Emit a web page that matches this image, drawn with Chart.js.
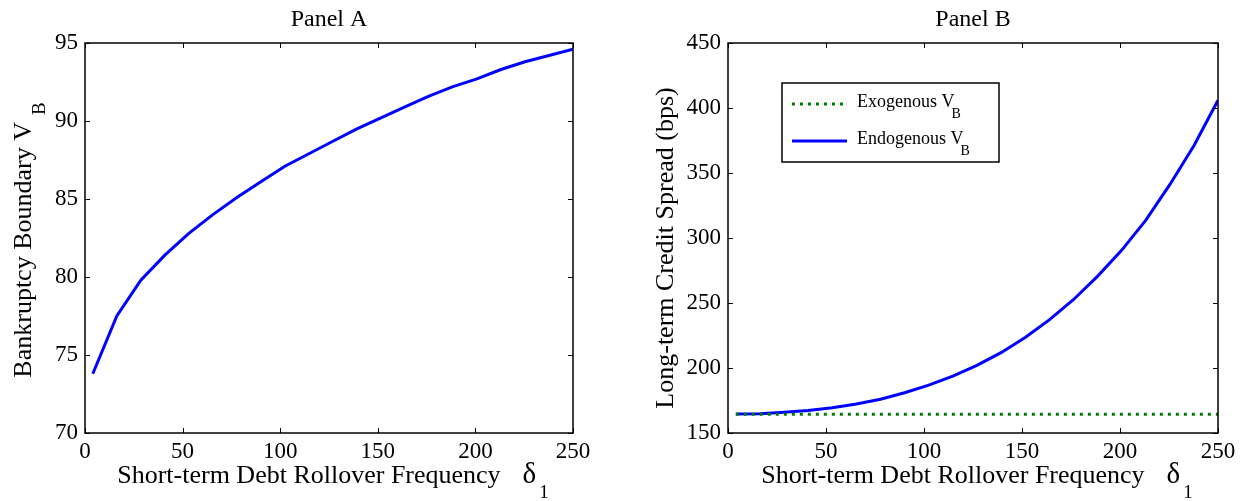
<!DOCTYPE html>
<html>
<head>
<meta charset="utf-8">
<script src="https://cdn.jsdelivr.net/npm/chart.js@4.4.1/dist/chart.umd.min.js"></script>
<style>
  html, body { margin: 0; padding: 0; background: #ffffff; }
  #wrap { position: relative; width: 1245px; height: 501px; overflow: hidden; background: #fff; }
  canvas { position: absolute; top: 0; }
</style>
</head>
<body>
<div id="wrap">
  <canvas id="cA" width="622" height="501" style="left:0px"></canvas>
  <canvas id="cB" width="623" height="501" style="left:622px"></canvas>
</div>
<script>
// ---- data ----
const rolloverFreq = [4, 16.3, 28.6, 40.9, 53.2, 65.5, 77.8, 90.1, 102.4, 114.7, 127, 139.3, 151.6, 163.9, 176.2, 188.5, 200.8, 213.1, 225.4, 237.7, 250];
const bankruptcyBoundary = [73.8, 77.5, 79.8, 81.4, 82.8, 84.0, 85.1, 86.1, 87.1, 87.9, 88.7, 89.5, 90.2, 90.9, 91.6, 92.2, 92.7, 93.3, 93.8, 94.2, 94.6];
const spreadEndogenous = [164.6, 164.9, 165.9, 167.3, 169.5, 172.3, 176.0, 181.0, 186.8, 193.8, 202.0, 211.8, 223.5, 237.0, 252.5, 270.5, 290.5, 313.5, 341.0, 371.0, 406.0];
const spreadExogenous = [164.5, 164.5, 164.5, 164.5, 164.5, 164.5, 164.5, 164.5, 164.5, 164.5, 164.5, 164.5, 164.5, 164.5, 164.5, 164.5, 164.5, 164.5, 164.5, 164.5, 164.5];
const xTicks = [0, 50, 100, 150, 200, 250];
const yTicksA = [70, 75, 80, 85, 90, 95];
const yTicksB = [150, 200, 250, 300, 350, 400, 450];
const seriesNames = ['Exogenous V', 'Endogenous V'];

const SERIF = '"Liberation Serif", "Times New Roman", serif';

function pts(xs, ys) { return xs.map((x, i) => ({ x: x, y: ys[i] })); }

// decoration plugin: box with inward ticks, title, axis labels, legend
const decor = {
  id: 'decor',
  afterDraw(chart, args, o) {
    const ctx = chart.ctx;
    const a = chart.chartArea;
    const xs = chart.scales.x, ys = chart.scales.y;
    ctx.save();
    ctx.strokeStyle = '#000';
    ctx.lineWidth = 1.5;
    ctx.strokeRect(a.left, a.top, a.right - a.left, a.bottom - a.top);
    ctx.lineWidth = 1;
    const tl = 5;
    ctx.beginPath();
    o.xTicks.forEach(v => {
      const px = Math.round(xs.getPixelForValue(v)) + 0.5;
      ctx.moveTo(px, a.bottom); ctx.lineTo(px, a.bottom - tl);
      ctx.moveTo(px, a.top); ctx.lineTo(px, a.top + tl);
    });
    o.yTicks.forEach(v => {
      const py = Math.round(ys.getPixelForValue(v)) + 0.5;
      ctx.moveTo(a.left, py); ctx.lineTo(a.left + tl, py);
      ctx.moveTo(a.right, py); ctx.lineTo(a.right - tl, py);
    });
    ctx.stroke();

    ctx.fillStyle = '#000';
    const cx = (a.left + a.right) / 2;
    // title
    ctx.font = '24px ' + SERIF;
    ctx.textAlign = 'center';
    ctx.textBaseline = 'alphabetic';
    ctx.fillText(o.title, cx, 26);

    // x label with delta_1
    ctx.font = '26px ' + SERIF;
    const main = 'Short-term Debt Rollover Frequency';
    const wMain = ctx.measureText(main).width;
    const gap = 22;
    ctx.font = '29px ' + SERIF;
    const wDelta = ctx.measureText('\u03B4').width;
    ctx.font = '19px ' + SERIF;
    const wSub = ctx.measureText('1').width;
    const total = wMain + gap + wDelta + 3 + wSub;
    let sx = cx - total / 2 + 4;
    const base = 483;
    ctx.textAlign = 'left';
    ctx.font = '26px ' + SERIF;
    ctx.fillText(main, sx, base);
    ctx.font = '29px ' + SERIF;
    ctx.fillText('\u03B4', sx + wMain + gap, base);
    ctx.font = '19px ' + SERIF;
    ctx.fillText('1', sx + wMain + gap + wDelta + 3, base + 15);

    // y label rotated
    ctx.save();
    ctx.translate(o.yLabelX, o.yLabelY);
    ctx.rotate(-Math.PI / 2);
    ctx.font = '26px ' + SERIF;
    const wy = ctx.measureText(o.yLabel).width;
    let wys = 0;
    if (o.yLabelSub) { ctx.font = '19px ' + SERIF; wys = ctx.measureText(o.yLabelSub).width + 7; }
    const ystart = -(wy + wys) / 2;
    ctx.font = '26px ' + SERIF;
    ctx.textBaseline = 'middle';
    ctx.fillText(o.yLabel, ystart, 0);
    if (o.yLabelSub) {
      ctx.font = '19px ' + SERIF;
      ctx.fillText(o.yLabelSub, ystart + wy + 7, 16);
    }
    ctx.restore();

    // legend
    if (o.legend) {
      const L = o.legend;
      ctx.fillStyle = '#fff';
      ctx.fillRect(L.x, L.y, L.w, L.h);
      ctx.strokeStyle = '#000';
      ctx.lineWidth = 1.5;
      ctx.strokeRect(L.x, L.y, L.w, L.h);
      chart.data.datasets.forEach((ds, i) => {
        const ly = L.y + L.rows[i];
        ctx.save();
        ctx.strokeStyle = ds.borderColor;
        ctx.lineWidth = ds.borderWidth;
        ctx.setLineDash(ds.borderDash || []);
        ctx.beginPath();
        ctx.moveTo(L.x + 10, ly);
        ctx.lineTo(L.x + 65, ly);
        ctx.stroke();
        ctx.restore();
        ctx.fillStyle = '#000';
        ctx.textBaseline = 'middle';
        ctx.textAlign = 'left';
        ctx.font = '18px ' + SERIF;
        ctx.fillText(ds.label, L.x + 75, ly - 2);
        const wl = ctx.measureText(ds.label).width;
        ctx.font = '14px ' + SERIF;
        ctx.fillText('B', L.x + 75 + wl - 3, ly + 10);
      });
    }
    ctx.restore();
  }
};

function makeChart(id, datasets, yMin, yMax, pad, deco) {
  return new Chart(document.getElementById(id), {
    type: 'line',
    data: { datasets: datasets },
    options: {
      responsive: false,
      devicePixelRatio: 1,
      animation: false,
      layout: { padding: pad },
      plugins: { legend: { display: false }, tooltip: { enabled: false }, decor: deco },
      scales: {
        x: {
          type: 'linear', min: 0, max: 250,
          grid: { display: false, drawTicks: false },
          border: { display: false },
          afterBuildTicks: s => { s.ticks = xTicks.map(v => ({ value: v })); },
          afterFit: s => { s.height = 40; },
          ticks: { color: '#000', font: { family: SERIF, size: 23 }, padding: 5, maxRotation: 0 }
        },
        y: {
          type: 'linear', min: yMin, max: yMax,
          grid: { display: false, drawTicks: false },
          border: { display: false },
          afterBuildTicks: s => { s.ticks = deco.yTicks.map(v => ({ value: v })); },
          afterFit: s => { s.width = 50; },
          ticks: { color: '#000', font: { family: SERIF, size: 23 }, padding: 7 }
        }
      }
    },
    plugins: [decor]
  });
}

makeChart('cA', [{
  label: 'Bankruptcy Boundary',
  data: pts(rolloverFreq, bankruptcyBoundary),
  borderColor: '#0000ff', borderWidth: 3, pointRadius: 0, tension: 0, fill: false
}], 70, 95, { left: 35, right: 49, top: 43, bottom: 28 }, {
  title: 'Panel A', xTicks: xTicks, yTicks: yTicksA,
  yLabel: 'Bankruptcy Boundary V', yLabelSub: 'B', yLabelX: 24, yLabelY: 240
});

makeChart('cB', [{
  label: seriesNames[0],
  data: pts(rolloverFreq, spreadExogenous),
  borderColor: '#008000', borderWidth: 3, borderDash: [3, 5], pointRadius: 0, tension: 0, fill: false
}, {
  label: seriesNames[1],
  data: pts(rolloverFreq, spreadEndogenous),
  borderColor: '#0000ff', borderWidth: 3, pointRadius: 0, tension: 0, fill: false
}], 150, 450, { left: 56, right: 27, top: 43, bottom: 28 }, {
  title: 'Panel B', xTicks: xTicks, yTicks: yTicksB,
  yLabel: 'Long-term Credit Spread (bps)', yLabelSub: '', yLabelX: 44, yLabelY: 248,
  legend: { x: 160, y: 83, w: 217, h: 79, rows: [21, 58] }
});
</script>
</body>
</html>
